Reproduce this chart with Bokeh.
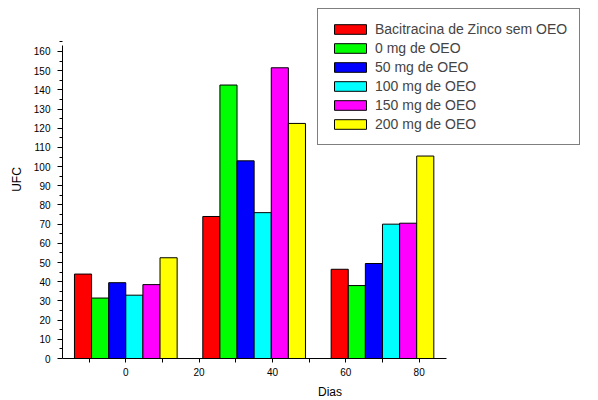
from bokeh.plotting import figure
from bokeh.models import ColumnDataSource, FixedTicker, Range1d, Legend, LegendItem
from bokeh.embed import file_html
from bokeh.resources import INLINE

days = [0, 35, 70]
series_names = ["Bacitracina de Zinco sem OEO", "0 mg de OEO", "50 mg de OEO",
                "100 mg de OEO", "150 mg de OEO", "200 mg de OEO"]
bacitracina = [44, 74, 46.5]
oeo_0 = [31.5, 142.5, 38]
oeo_50 = [39.5, 103, 49.5]
oeo_100 = [33, 76, 70]
oeo_150 = [38.5, 151.5, 70.5]
oeo_200 = [52.5, 122.5, 105.5]
colors = ["#FF0000", "#00FF00", "#0000FF", "#00FFFF", "#FF00FF", "#FFFF00"]
y_ticks = list(range(0, 161, 10))
x_ticks = [0, 20, 40, 60, 80]
x_axis_bounds = (-17.2, 87.5)
y_axis_bounds = (0, 163)

FONT = "Liberation Sans"

FRAME_W, FRAME_H = 535, 358
PX_PER_X = 3.667
PX_PER_Y = 1.919
x0 = -17.26
y0 = 0

p = figure(frame_width=FRAME_W, frame_height=FRAME_H, output_backend="svg", toolbar_location=None,
           x_range=Range1d(x0, x0 + FRAME_W / PX_PER_X),
           y_range=Range1d(y0, y0 + FRAME_H / PX_PER_Y),
           min_border_left=62, min_border_right=0, min_border_top=0, min_border_bottom=41)

all_series = [bacitracina, oeo_0, oeo_50, oeo_100, oeo_150, oeo_200]
group_width = 28.0
bw = group_width / len(all_series)
items = []
for i, (vals, name, col) in enumerate(zip(all_series, series_names, colors)):
    off = -group_width / 2 + bw * (i + 0.5)
    src = ColumnDataSource(dict(x=[d + off for d in days], top=vals))
    r = p.vbar(x="x", top="top", bottom=0, width=bw, source=src,
               fill_color=col, line_color="black", line_width=1)
    items.append(LegendItem(label=name, renderers=[r]))

legend = Legend(items=items, location=(255, 213),
                label_text_font=FONT, label_text_font_size="14px",
                glyph_width=40, glyph_height=12, label_height=12,
                spacing=3, padding=12, margin=0, label_standoff=5,
                border_line_color="black", border_line_width=1,
                background_fill_alpha=1)
p.add_layout(legend)

p.xgrid.visible = False
p.ygrid.visible = False
p.outline_line_color = None

p.xaxis.ticker = FixedTicker(ticks=x_ticks, minor_ticks=[-10, 10, 30, 50, 70])
p.yaxis.ticker = FixedTicker(ticks=y_ticks, minor_ticks=[v + 5 for v in y_ticks])
p.xaxis.bounds = x_axis_bounds
p.yaxis.bounds = y_axis_bounds

for ax in [p.xaxis[0], p.yaxis[0]]:
    ax.axis_line_color = "black"
    ax.major_tick_line_color = "black"
    ax.minor_tick_line_color = "black"
    ax.major_tick_in = 0
    ax.minor_tick_in = 0
    ax.major_label_text_font = FONT
    ax.major_label_text_font_size = "10px"
    ax.major_label_text_color = "black"
    ax.axis_label_text_font = FONT
    ax.axis_label_text_font_size = "12px"
    ax.axis_label_text_font_style = "normal"
    ax.axis_label_text_color = "black"

p.xaxis.major_tick_out = 4
p.xaxis.minor_tick_out = 4
p.yaxis.major_tick_out = 5
p.yaxis.minor_tick_out = 3
p.xaxis.major_label_standoff = 5
p.yaxis.major_label_standoff = 7
p.xaxis.axis_label = "Dias"
p.yaxis.axis_label = "UFC"
p.xaxis.axis_label_standoff = 6
p.yaxis.axis_label_standoff = 7

open("out.html", "w").write(file_html(p, INLINE))
